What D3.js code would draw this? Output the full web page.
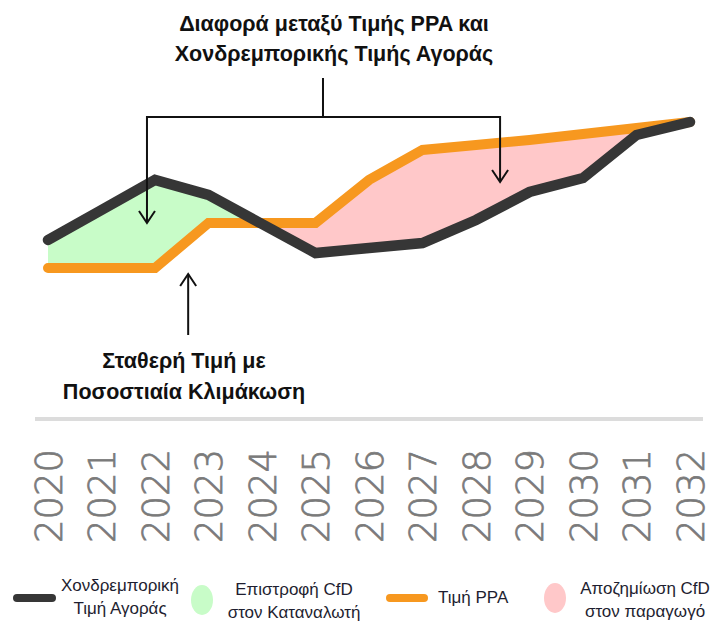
<!DOCTYPE html>
<html>
<head>
<meta charset="utf-8">
<script src="https://cdn.jsdelivr.net/npm/d3@7"></script>
<style>
    body { margin: 0; background: #fff; }
    svg { display: block; }
</style>
</head>
<body>
<div id="chart-area"></div>
<script>
// data (arbitrary price index)
var years = [2020, 2021, 2022, 2023, 2024, 2025, 2026, 2027, 2028, 2029, 2030, 2031, 2032];
var wholesalePrice = [30, 45, 60, 52.5, 38, 23.5, 26, 28.5, 40, 54, 61, 82.5, 89];
var ppaPrice = [16, 16, 16, 38.5, 38.5, 38.5, 60, 75, 77.5, 80, 83, 86, 89];

var topNote = ["Διαφορά μεταξύ Τιμής PPA και", "Χονδρεμπορικής Τιμής Αγοράς"];
var bottomNote = ["Σταθερή Τιμή με", "Ποσοστιαία Κλιμάκωση"];

var legendLabels = [
    ["Χονδρεμπορική", "Τιμή Αγοράς"],
    ["Επιστροφή CfD", "στον Καταναλωτή"],
    ["Τιμή PPA"],
    ["Αποζημίωση CfD", "στον παραγωγό"]
];

var colors = {
    wholesale: "#363636",
    ppa: "#f7981f",
    consumer: "#c8fcc8",
    producer: "#ffc8c9",
    axis: "#dcdcdc",
    tick: "#7a7a7a"
};

var width = 715, height = 621;
var textFont = "'Liberation Sans Narrow', 'Liberation Sans', Arial, sans-serif";

var data = years.map(function(d, i) {
    return { year: d, wholesale: wholesalePrice[i], ppa: ppaPrice[i] };
});

var svg = d3.select("#chart-area")
    .append("svg")
    .attr("width", width)
    .attr("height", height);

var x = d3.scaleLinear()
    .domain(d3.extent(years))
    .range([48, 690]);

var y = d3.scaleLinear()
    .domain([0, 100])
    .range([300, 100]);

var axisY = 419;

// clip paths: below / above the wholesale line
var defs = svg.append("defs");
defs.append("clipPath").attr("id", "clip-below")
    .append("path")
    .attr("d", d3.area()
        .x(function(d) { return x(d.year); })
        .y0(height)
        .y1(function(d) { return y(d.wholesale); })(data));
defs.append("clipPath").attr("id", "clip-above")
    .append("path")
    .attr("d", d3.area()
        .x(function(d) { return x(d.year); })
        .y0(0)
        .y1(function(d) { return y(d.wholesale); })(data));

var between = d3.area()
    .x(function(d) { return x(d.year); })
    .y0(function(d) { return y(d.ppa); })
    .y1(function(d) { return y(d.wholesale); });

svg.append("path")
    .attr("d", between(data))
    .attr("fill", colors.consumer)
    .attr("clip-path", "url(#clip-below)");

svg.append("path")
    .attr("d", between(data))
    .attr("fill", colors.producer)
    .attr("clip-path", "url(#clip-above)");

var line = function(key) {
    return d3.line()
        .x(function(d) { return x(d.year); })
        .y(function(d) { return y(d[key]); });
};

svg.append("path")
    .attr("d", line("ppa")(data))
    .attr("fill", "none")
    .attr("stroke", colors.ppa)
    .attr("stroke-width", 10)
    .attr("stroke-linecap", "round")
    .attr("stroke-linejoin", "miter");

svg.append("path")
    .attr("d", line("wholesale")(data))
    .attr("fill", "none")
    .attr("stroke", colors.wholesale)
    .attr("stroke-width", 10.5)
    .attr("stroke-linecap", "round")
    .attr("stroke-linejoin", "miter");

// x axis: grey rule + rotated year labels
svg.append("line")
    .attr("x1", x.range()[0] - 13)
    .attr("x2", x.range()[1] + 13)
    .attr("y1", axisY)
    .attr("y2", axisY)
    .attr("stroke", colors.axis)
    .attr("stroke-width", 4);

var xAxis = svg.append("g")
    .attr("transform", "translate(0," + axisY + ")")
    .call(d3.axisBottom(x).tickValues(years).tickFormat(d3.format("d")).tickSize(0));
xAxis.select(".domain").remove();
xAxis.selectAll("text")
    .attr("transform", "rotate(-90)")
    .attr("x", -124)
    .attr("y", 0)
    .attr("dy", "0.36em")
    .attr("text-anchor", "start")
    .attr("font-family", "'DejaVu Sans', sans-serif")
    .attr("font-weight", 200)
    .attr("font-size", "37px")
    .attr("fill", colors.tick)
    .attr("stroke", colors.tick)
    .attr("stroke-width", 0.7);

// annotations
var ink = "#111";
var note = svg.append("g")
    .attr("stroke", ink)
    .attr("stroke-width", 2)
    .attr("fill", "none");

function arrowHead(px, py, dir) {
    note.append("path")
        .attr("d", "M" + (px - 8) + "," + (py - 12 * dir) + "L" + px + "," + py +
            "L" + (px + 8) + "," + (py - 12 * dir));
}

var bracketY = y(91.5);
var leftX = x(2021.85), rightX = x(2028.45), midX = x(2025.14);
note.append("path")
    .attr("d", "M" + midX + "," + y(111) + "V" + bracketY +
        "M" + leftX + "," + y(38.5) + "V" + bracketY + "H" + rightX + "V" + y(59));
arrowHead(leftX, y(38.5), 1);
arrowHead(rightX, y(59), 1);

var upX = x(2022.62);
note.append("path")
    .attr("d", "M" + upX + "," + y(-17.5) + "V" + y(13));
arrowHead(upX, y(13), -1);

function noteText(lines, cx, cy0, step) {
    svg.append("g").selectAll("text")
        .data(lines)
        .enter().append("text")
        .attr("x", cx)
        .attr("y", function(d, i) { return cy0 + i * step; })
        .attr("dy", "0.35em")
        .attr("text-anchor", "middle")
        .attr("font-family", textFont)
        .attr("font-weight", "bold")
        .attr("font-size", "21.5px")
        .attr("fill", ink)
        .text(function(d) { return d; });
}
noteText(topNote, 334, 23, 30);
noteText(bottomNote, 184, 360, 31);

// legend
var legend = svg.append("g");

legend.append("line")
    .attr("x1", 17).attr("x2", 52)
    .attr("y1", 598).attr("y2", 598)
    .attr("stroke", colors.wholesale)
    .attr("stroke-width", 8)
    .attr("stroke-linecap", "round");
legend.append("ellipse")
    .attr("cx", 202).attr("cy", 600)
    .attr("rx", 11).attr("ry", 15)
    .attr("fill", colors.consumer);
legend.append("line")
    .attr("x1", 390).attr("x2", 424)
    .attr("y1", 598).attr("y2", 598)
    .attr("stroke", colors.ppa)
    .attr("stroke-width", 8)
    .attr("stroke-linecap", "round");
legend.append("ellipse")
    .attr("cx", 555).attr("cy", 598)
    .attr("rx", 11).attr("ry", 15)
    .attr("fill", colors.producer);

var legendPos = [
    { x: 120, y: 585, anchor: "middle" },
    { x: 294, y: 589, anchor: "middle" },
    { x: 438, y: 597, anchor: "start" },
    { x: 645, y: 588, anchor: "middle" }
];

legendLabels.forEach(function(lines, k) {
    var p = legendPos[k];
    legend.append("g").selectAll("text")
        .data(lines)
        .enter().append("text")
        .attr("x", p.x)
        .attr("y", function(d, i) { return p.y + i * 23; })
        .attr("dy", "0.35em")
        .attr("text-anchor", p.anchor)
        .attr("font-family", textFont)
        .attr("font-size", "17px")
        .attr("fill", "#1e1e30")
        .text(function(d) { return d; });
});
</script>
</body>
</html>
